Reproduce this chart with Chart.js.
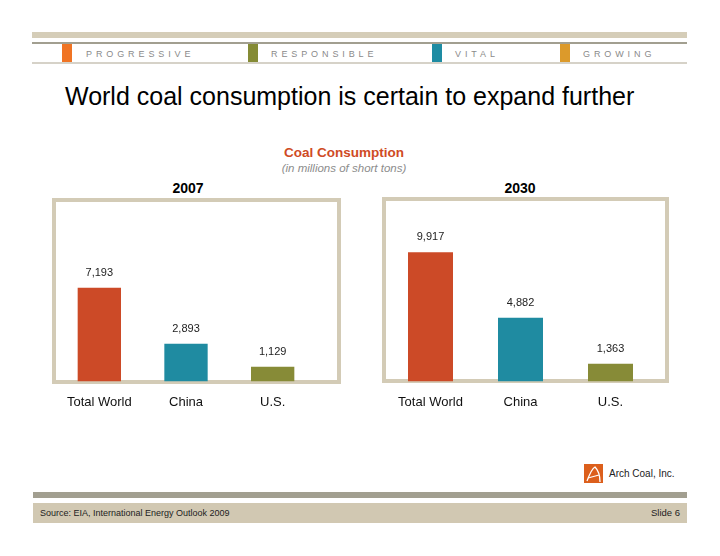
<!DOCTYPE html>
<html>
<head>
<meta charset="utf-8">
<script src="https://cdn.jsdelivr.net/npm/chart.js@4/dist/chart.umd.min.js"></script>
<style>
  body { margin: 0; background: #fff; font-family: "Liberation Sans", Arial, sans-serif; }
  #slide { position: relative; width: 720px; height: 556px; overflow: hidden; }
  .abs { position: absolute; }
  .tag { position: absolute; top: 48px; font-size: 9px; line-height: 12px; letter-spacing: 3.9px; color: #8a8a8a; }
  .sq { position: absolute; top: 44px; width: 10px; height: 18px; }
  .box { position: absolute; border: 4px solid #d3cbb6; box-sizing: border-box; }
  canvas { position: absolute; }
</style>
</head>
<body>
<div id="slide">
  <!-- header stripes -->
  <div class="abs" style="left:32px;top:32px;width:655px;height:6px;background:#d5cdb8"></div>
  <div class="abs" style="left:32px;top:42px;width:655px;height:2px;background:#a29f90"></div>
  <div class="abs" style="left:32px;top:62px;width:655px;height:2px;background:#d6d2c8"></div>
  <div class="sq" style="left:62px;background:#f07424"></div>
  <div class="tag" style="left:86px">PROGRESSIVE</div>
  <div class="sq" style="left:248px;background:#858b35"></div>
  <div class="tag" style="left:271px">RESPONSIBLE</div>
  <div class="sq" style="left:432px;background:#1e8ca3"></div>
  <div class="tag" style="left:455px">VITAL</div>
  <div class="sq" style="left:560px;background:#dc9a2b"></div>
  <div class="tag" style="left:583px">GROWING</div>

  <div class="abs" style="left:65px;top:84px;font-size:25px;line-height:25px;color:#000;white-space:nowrap">World coal consumption is certain to expand further</div>

  <div class="abs" style="left:244px;width:200px;top:145px;text-align:center;font-size:13.5px;line-height:16px;font-weight:bold;color:#cf4b25">Coal Consumption</div>
  <div class="abs" style="left:244px;width:200px;top:161px;text-align:center;font-size:11.5px;line-height:14px;font-style:italic;color:#8c8c8c">(in millions of short tons)</div>

  <div class="abs" style="left:138px;width:100px;top:180px;text-align:center;font-size:14px;line-height:16px;font-weight:bold;color:#000">2007</div>
  <div class="abs" style="left:470px;width:100px;top:180px;text-align:center;font-size:14px;line-height:16px;font-weight:bold;color:#000">2030</div>

  <div class="box" style="left:52px;top:198px;width:289px;height:186px"></div>
  <div class="box" style="left:382px;top:197px;width:287px;height:186px"></div>
  <canvas id="chart2007" width="290" height="227" style="left:52px;top:197px"></canvas>
  <canvas id="chart2030" width="288" height="227" style="left:382px;top:197px"></canvas>

  <!-- logo -->
  <svg class="abs" style="left:584px;top:464px" width="19" height="19" viewBox="0 0 19 19">
    <rect width="19" height="19" fill="#dc5f1c"/>
    <path d="M3 17 C6 9 9 4 11 3 C14 6 16 12 16 18" fill="none" stroke="#fff" stroke-width="1.3"/>
    <path d="M4 14 L15 11" fill="none" stroke="#fff" stroke-width="1.2"/>
  </svg>
  <div class="abs" style="left:609px;top:467px;font-size:10px;line-height:14px;color:#222">Arch Coal, Inc.</div>

  <!-- footer -->
  <div class="abs" style="left:33px;top:492px;width:654px;height:6px;background:#a29f90"></div>
  <div class="abs" style="left:33px;top:503px;width:654px;height:20px;background:#d1c8b2"></div>
  <div class="abs" style="left:40px;top:507px;font-size:9px;line-height:12px;color:#222">Source: EIA, International Energy Outlook 2009</div>
  <div class="abs" style="left:580px;width:100px;top:507px;text-align:right;font-size:9.5px;line-height:12px;color:#222">Slide 6</div>
</div>

<script>
// data
const categories = ['Total World', 'China', 'U.S.'];
const values2007 = [7193, 2893, 1129];
const values2030 = [9917, 4882, 1363];
const barColors = ['#cc4a27', '#1f8ba1', '#878b37'];
const yMax = 14000;

const fontFamily = '"Liberation Sans", Arial, sans-serif';

// values above the bars
const valueLabels = {
  id: 'valueLabels',
  afterDatasetsDraw(chart) {
    const ctx = chart.ctx;
    const data = chart.data.datasets[0].data;
    ctx.save();
    ctx.font = '11px ' + fontFamily;
    ctx.fillStyle = '#222';
    ctx.textAlign = 'center';
    ctx.textBaseline = 'middle';
    chart.getDatasetMeta(0).data.forEach((bar, i) => {
      ctx.fillText(data[i].toLocaleString('en-US'), bar.x, bar.y - 15);
    });
    ctx.restore();
  }
};

const makeChart = (id, values, pad) => {
  return new Chart(document.getElementById(id), {
    type: 'bar',
    data: {
      labels: categories,
      datasets: [{
        data: values,
        backgroundColor: barColors,
        borderWidth: 0,
        categoryPercentage: 1,
        barPercentage: 0.5
      }]
    },
    options: {
      responsive: false,
      animation: false,
      devicePixelRatio: 1,
      layout: { padding: pad },
      plugins: { legend: { display: false }, tooltip: { enabled: false } },
      scales: {
        x: {
          grid: { display: false, drawTicks: false },
          border: { display: false },
          ticks: { padding: 13.5, color: '#111', font: { family: fontFamily, size: 13 } }
        },
        y: { display: false, min: 0, max: yMax }
      }
    },
    plugins: [valueLabels]
  });
};

makeChart('chart2007', values2007, { left: 4, right: 26, top: 2, bottom: 0 });
makeChart('chart2030', values2030, { left: 3.5, right: 14.5, top: 2, bottom: 0 });
</script>
</body>
</html>
